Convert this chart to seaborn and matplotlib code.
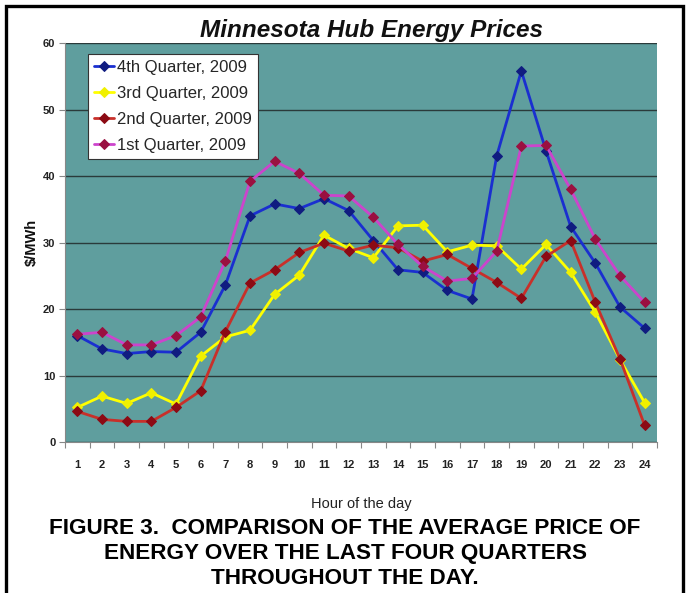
import matplotlib
matplotlib.use("Agg")
import matplotlib.pyplot as plt
import seaborn as sns
import numpy as np
import pandas as pd
from matplotlib.patches import Rectangle
from matplotlib.ticker import FixedLocator

hours = list(range(1, 25))
q4_2009 = [16.0, 14.0, 13.3, 13.6, 13.5, 16.5, 23.6, 34.0, 35.8, 35.1, 36.6, 34.8,
           30.3, 25.9, 25.5, 22.8, 21.5, 43.0, 55.8, 43.8, 32.4, 26.9, 20.3, 17.1]
q3_2009 = [5.2, 6.9, 5.8, 7.4, 5.7, 12.9, 15.8, 16.8, 22.2, 25.1, 31.1, 29.1,
           27.7, 32.5, 32.6, 28.6, 29.6, 29.5, 26.0, 29.7, 25.5, 19.5, 12.4, 5.9]
q2_2009 = [4.6, 3.4, 3.1, 3.1, 5.2, 7.7, 16.6, 23.9, 25.9, 28.5, 29.9, 28.7,
           29.6, 29.2, 27.2, 28.2, 26.1, 24.0, 21.6, 27.9, 30.3, 21.0, 12.5, 2.5]
q1_2009 = [16.2, 16.5, 14.6, 14.6, 16.0, 18.8, 27.2, 39.2, 42.2, 40.4, 37.1, 37.0,
           33.8, 29.7, 26.4, 24.2, 24.6, 28.7, 44.5, 44.6, 38.0, 30.5, 25.0, 21.0]

series_names = ["4th Quarter, 2009", "3rd Quarter, 2009", "2nd Quarter, 2009", "1st Quarter, 2009"]
series_values = [q4_2009, q3_2009, q2_2009, q1_2009]
line_colors = ["#1a2fd0", "#ffff00", "#c8302a", "#cc44cc"]
marker_colors = ["#101c80", "#f0f000", "#8c0a14", "#9a1040"]

title_text = "Minnesota Hub Energy Prices"
xlabel_text = "Hour of the day"
ylabel_text = r"\$/MWh"
caption_lines = ["FIGURE 3.  COMPARISON OF THE AVERAGE PRICE OF",
                 "ENERGY OVER THE LAST FOUR QUARTERS",
                 "THROUGHOUT THE DAY."]

sns.set_theme(style="white")
plt.rcParams['font.family'] = ['Liberation Sans', 'DejaVu Sans']

W, H = 688, 593
fig = plt.figure(figsize=(W / 100, H / 100), dpi=100)
fig.patch.set_facecolor("white")

L, R, T, B = 65, 657, 43, 442
ax = fig.add_axes([L / W, 1 - B / H, (R - L) / W, (B - T) / H])
ax.set_facecolor("#5f9e9e")

for name, vals, lc, mc in zip(series_names, series_values, line_colors, marker_colors):
    df = pd.DataFrame({"hour": hours, "price": vals})
    sns.lineplot(data=df, x="hour", y="price", ax=ax, color=lc, linewidth=2.0,
                 marker="D", markersize=5, markerfacecolor=mc, markeredgecolor=mc,
                 label=name, zorder=3)

ax.set_xlim(0.5, 24.5)
ax.set_ylim(0, 60)
ax.set_yticks(np.arange(0, 61, 10))
ax.set_xticks(hours)
ax.xaxis.set_minor_locator(FixedLocator(np.arange(0.5, 24.6, 1)))
ax.grid(axis="y", color="#2a3a3a", linewidth=1.0, zorder=1)
ax.set_axisbelow(True)

ax.tick_params(axis="x", which="major", length=0, pad=13, labelsize=8, labelcolor="#222222")
ax.tick_params(axis="x", which="minor", length=4, width=0.8, color="#888888", direction="out", bottom=True)
ax.tick_params(axis="y", which="major", length=4, width=0.8, color="#888888", direction="out",
               left=True, labelsize=8, labelcolor="#222222", pad=3)
for lab in ax.get_xticklabels() + ax.get_yticklabels():
    lab.set_fontweight("bold")

for side in ["top", "right"]:
    ax.spines[side].set_visible(False)
for side in ["left", "bottom"]:
    ax.spines[side].set_color("#888888")
    ax.spines[side].set_linewidth(0.8)

ax.set_xlabel("")
ax.set_ylabel(ylabel_text, fontsize=10.5, fontweight="bold", color="#111111")
ax.yaxis.set_label_coords((39 - L) / (R - L), 0.5)

leg = ax.legend(loc="upper left", bbox_to_anchor=((88 - L) / (R - L), 1 - (54 - T) / (B - T)),
                frameon=True, fancybox=False, fontsize=12, handlelength=1.2,
                handletextpad=0.2, borderpad=0.35, labelspacing=0.66, borderaxespad=0)
leg.get_frame().set_facecolor("white")
leg.get_frame().set_edgecolor("#333333")
leg.get_frame().set_linewidth(0.8)
leg.get_frame().set_alpha(1)

fig.text(372 / W, 1 - 30 / H, title_text, ha="center", va="center",
         fontsize=17.5, fontweight="bold", fontstyle="italic", color="#111111")
fig.text((L + R) / 2 / W, 1 - 504 / H, xlabel_text, ha="center", va="center",
         fontsize=10.5, color="#222222")
caption_y = [529, 554, 578]
for line, yy in zip(caption_lines, caption_y):
    fig.text(345 / W, 1 - yy / H, line, ha="center", va="center",
             fontsize=16.2, fontweight="bold", color="#000000")

fig.patches.append(Rectangle((6 / W, -0.05), (683 - 6) / W, 1.05 - 6 / H,
                             transform=fig.transFigure, fill=False,
                             edgecolor="black", linewidth=2.4, zorder=10))

fig.savefig("out.png", dpi=100, facecolor="white")
